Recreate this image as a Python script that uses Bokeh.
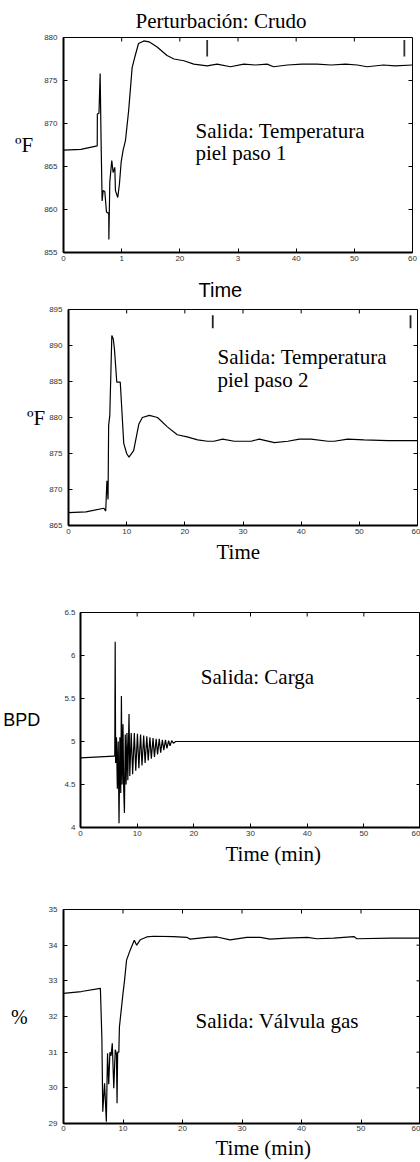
from bokeh.plotting import figure
from bokeh.layouts import column
from bokeh.models import Label, FixedTicker, Range1d, Title
from bokeh.embed import file_html
from bokeh.resources import INLINE

SERIF = "Liberation Serif"
SANS = "Liberation Sans"

# ---------------- data ----------------
xticks = [0, 10, 20, 30, 40, 50, 60]

# Panel 1: Temperatura piel paso 1 (ºF)
t1 = [0, 3.0, 5.8, 5.82, 6.1, 6.3, 6.45, 6.64, 6.82, 7.1, 7.39, 7.62, 7.78, 7.8, 7.96, 8.3, 8.53, 8.82, 8.93,
      9.33, 9.62, 9.91, 10.25, 10.65, 11.2, 11.8, 12.25, 12.9, 13.8, 14.7, 16.1, 17.8, 19.0, 20.7, 22.4, 24.7,
      26.4, 28.7, 31.0, 33.0, 35.0, 36.1, 38.5, 41.0, 43.6, 46.0, 48.5, 50.5, 52.2, 55.0, 57.0, 60.0]
v1 = [866.9, 867.0, 867.4, 871.1, 871.2, 875.8, 868.5, 861.0, 862.2, 862.1, 859.7, 859.6, 859.6, 856.5, 863.2,
      865.7, 864.3, 864.9, 862.2, 861.4, 863.0, 865.5, 866.9, 868.0, 871.5, 876.5, 877.7, 879.3, 879.6, 879.5,
      878.9, 877.9, 877.5, 877.3, 876.9, 876.7, 876.9, 876.6, 876.9, 876.8, 876.9, 876.6, 876.8, 876.9, 876.9,
      876.8, 876.9, 876.8, 876.6, 876.8, 876.7, 876.8]
yticks1 = [855, 860, 865, 870, 875, 880]
xlabels1 = {10: "1", 30: "3"}
mark1_x = [24.7, 58.6]
mark1_lo = 877.8
mark1_hi = 879.7

# Panel 2: Temperatura piel paso 2 (ºF)
t2 = [0, 3, 6.1, 6.4, 6.6, 6.8, 6.9, 7.1, 7.45, 7.7, 7.9, 8.3, 8.9, 9.5, 10.0, 10.4, 11.2, 12.1, 12.7, 13.9,
      15.3, 17.0, 18.7, 20.4, 22.2, 23.9, 25.0, 26.5, 28.5, 31.4, 32.8, 35.4, 37.7, 39.7, 41.7, 44.6, 45.7,
      48.0, 50.8, 55.0, 60.0]
v2 = [866.8, 866.9, 867.4, 867.0, 871.2, 868.6, 878.9, 880.3, 891.4, 890.9, 889.5, 884.9, 884.9, 876.4, 875.0,
      874.5, 875.4, 879.1, 880.0, 880.3, 880.0, 878.7, 877.6, 877.3, 876.9, 876.7, 876.7, 877.0, 876.7, 876.7,
      877.0, 876.5, 876.7, 877.0, 877.0, 876.7, 876.7, 877.0, 876.9, 876.8, 876.8]
yticks2 = [865, 870, 875, 880, 885, 890, 895]
mark2_x = [24.8, 58.8]
mark2_lo = 892.4
mark2_hi = 894.2

# Panel 3: Carga (BPD)
t3 = [0, 5.9, 6.05, 6.12, 6.2, 6.35, 6.5, 6.65, 6.8, 6.95, 7.1, 7.22, 7.35, 7.5, 7.62, 7.75, 7.9, 8.05, 8.2,
      8.35, 8.56, 8.7, 8.95, 9.2, 9.5, 9.75, 10.05, 10.3, 10.6, 10.85, 11.15, 11.4, 11.7, 11.95, 12.25, 12.5,
      12.8, 13.05, 13.35, 13.6, 13.9, 14.15, 14.45, 14.7, 15.0, 15.25, 15.55, 15.8, 16.1, 16.4, 16.8, 60]
v3 = [4.81, 4.83, 4.83, 6.16, 4.75, 5.05, 4.45, 5.0, 4.05, 5.05, 4.4, 5.53, 4.5, 5.2, 4.45, 4.17, 5.08, 4.5,
      5.1, 4.55, 5.32, 4.6, 5.1, 4.62, 5.1, 4.66, 5.09, 4.69, 5.08, 4.72, 5.07, 4.75, 5.06, 4.78, 5.05, 4.8,
      5.04, 4.82, 5.03, 4.85, 5.03, 4.87, 5.02, 4.9, 5.02, 4.92, 5.01, 4.95, 5.01, 4.98, 5.0, 5.0]
yticks3 = [4, 4.5, 5, 5.5, 6, 6.5]

# Panel 4: Válvula gas (%)
t4 = [0, 3, 6.2, 6.45, 6.6, 6.9, 7.2, 7.4, 7.6, 7.8, 8.0, 8.2, 8.45, 8.7, 8.9, 9.0, 9.1, 9.3, 9.4, 10.0, 10.25,
      10.6, 11.2, 11.9, 12.3, 12.9, 14.0, 15.1, 18.5, 20.7, 21.3, 24.1, 25.8, 28.0, 30.8, 33.1, 34.7, 37.5,
      41.0, 42.6, 45.4, 48.8, 49.3, 55.0, 60.0]
v4 = [32.65, 32.7, 32.79, 31.39, 29.33, 30.13, 29.05, 30.97, 30.1, 31.0, 30.9, 31.25, 29.99, 31.07, 30.95,
      29.57, 31.0, 31.0, 31.71, 32.65, 33.0, 33.58, 33.86, 34.14, 34.0, 34.15, 34.23, 34.25, 34.24, 34.22,
      34.17, 34.22, 34.23, 34.15, 34.22, 34.22, 34.17, 34.2, 34.22, 34.18, 34.2, 34.24, 34.18, 34.2, 34.2]
yticks4 = [29, 30, 31, 32, 33, 34, 35]


# ---------------- helpers ----------------
def style_axis(ax, ticks, overrides=None, standoff=5):
    ax.ticker = FixedTicker(ticks=ticks)
    ax.major_tick_in = 4
    ax.major_tick_out = 0
    ax.minor_tick_in = 0
    ax.minor_tick_out = 0
    ax.axis_line_width = 2
    ax.axis_line_color = "black"
    ax.major_tick_line_color = "black"
    ax.major_tick_line_width = 1
    ax.major_label_text_font = SANS
    ax.major_label_text_color = "#333333"
    ax.major_label_text_font_size = "8px"
    ax.major_label_standoff = standoff
    if overrides:
        ax.major_label_overrides = overrides


def panel(g, height, bl, br, bt, bb, yt, xover=None, xstand=3, ystand=6):
    L, R, T, B, x0, x1, y0, y1 = g
    p = figure(width=420, height=height, min_border_left=bl, min_border_right=br,
               min_border_top=bt, min_border_bottom=bb,
               x_range=Range1d(x0, x1), y_range=Range1d(y0, y1),
               output_backend="svg", toolbar_location=None)
    p.frame_align = False
    p.grid.visible = False
    p.outline_line_color = "black"
    p.outline_line_width = 1
    p.background_fill_color = "white"
    p.border_fill_color = "white"
    style_axis(p.xaxis[0], xticks, xover, xstand)
    style_axis(p.yaxis[0], yt, None, ystand)
    # mirrored inward ticks on the top and right frame edges (4 px long)
    dx = 4.0 * (x1 - x0) / (R - L)
    dy = 4.0 * (y1 - y0) / (B - T)
    p.segment(x0=xticks, y0=[y1] * len(xticks), x1=xticks, y1=[y1 - dy] * len(xticks),
              line_color="black", line_width=1)
    p.segment(x0=[x1] * len(yt), y0=yt, x1=[x1 - dx] * len(yt), y1=yt,
              line_color="black", line_width=1)
    return p


def ylabel(p, text, font, size, standoff):
    ax = p.yaxis[0]
    ax.axis_label = text
    ax.axis_label_orientation = "horizontal"
    ax.axis_label_text_font = font
    ax.axis_label_text_font_size = size
    ax.axis_label_text_font_style = "normal"
    ax.axis_label_text_color = "black"
    ax.axis_label_standoff = standoff


def side_title(p, text, font, size, side, offset, standoff):
    p.add_layout(Title(text=text, text_font=font, text_font_size=size, text_font_style="normal",
                       text_color="black", align="left", offset=offset, standoff=standoff), side)


def label(p, g, sx, sy, text, font, size):
    L, R, T, B, x0, x1, y0, y1 = g
    x = x0 + (sx - L) / (R - L) * (x1 - x0)
    y = y1 - (sy - T) / (B - T) * (y1 - y0)
    p.add_layout(Label(x=x, y=y, text=text, text_font=font, text_font_size=size,
                       text_align="left", text_baseline="alphabetic", text_color="black"))


# ---------------- panel 1 ----------------
G1 = (63, 412, 37, 252, 0, 60, 855, 880)
p1 = panel(G1, 267, 63, 8, 37, 15, yticks1, xlabels1)
p1.line(t1, v1, line_color="black", line_width=1.2)
p1.segment(x0=mark1_x, y0=[mark1_lo] * 2, x1=mark1_x, y1=[mark1_hi] * 2, line_color="#333333", line_width=1.8)
side_title(p1, "Perturbación: Crudo", SERIF, "21px", "above", 72, 10)
label(p1, G1, 195, 130, "Salida:  Temperatura", SERIF, "21px")
label(p1, G1, 195, 152, "piel paso 1", SERIF, "21px")
ylabel(p1, "ºF", SERIF, "21px", 8)

# ---------------- panel 2 ----------------
G2 = (68, 417, 309, 525, 0, 60, 865, 895)
p2 = panel(G2, 299, 68, 3, 42, 41, yticks2)
# x-axis title of panel 1, drawn in the gap above panel 2
side_title(p2, "Time", SANS, "20px", "above", 130, 17)
p2.line(t2, v2, line_color="black", line_width=1.2)
p2.segment(x0=mark2_x, y0=[mark2_lo] * 2, x1=mark2_x, y1=[mark2_hi] * 2, line_color="#222222", line_width=1.8)
label(p2, G2, 217, 356, "Salida:  Temperatura", SERIF, "21px")
label(p2, G2, 217, 379, "piel paso 2", SERIF, "21px")
ylabel(p2, "ºF", SERIF, "21px", 1)
side_title(p2, "Time", SERIF, "21px", "below", 148, 2)

# ---------------- panel 3 ----------------
G3 = (78, 420, 612, 827, 0, 60, 4, 6.5)
p3 = panel(G3, 302, 78, 0, 46, 41, yticks3, None, 3, 5)
p3.line(t3, v3, line_color="black", line_width=1.2)
label(p3, G3, 199, 676, "Salida:  Carga", SERIF, "21px")
ylabel(p3, "BPD", SANS, "18px", 21)
side_title(p3, "Time  (min)", SERIF, "21px", "below", 145, 2)

# ---------------- panel 4 ----------------
G4 = (63, 420, 909, 1123, 0, 60, 29, 35)
p4 = panel(G4, 294, 63, 0, 41, 39, yticks4, None, 2)
p4.line(t4, v4, line_color="black", line_width=1.2)
label(p4, G4, 195, 1020, "Salida:  Válvula gas", SERIF, "21px")
ylabel(p4, "%", SERIF, "20px", 18)
side_title(p4, "Time  (min)", SERIF, "21px", "below", 152, 1)

layout = column(p1, p2, p3, p4, spacing=0)
open("out.html", "w").write(file_html(layout, INLINE))
